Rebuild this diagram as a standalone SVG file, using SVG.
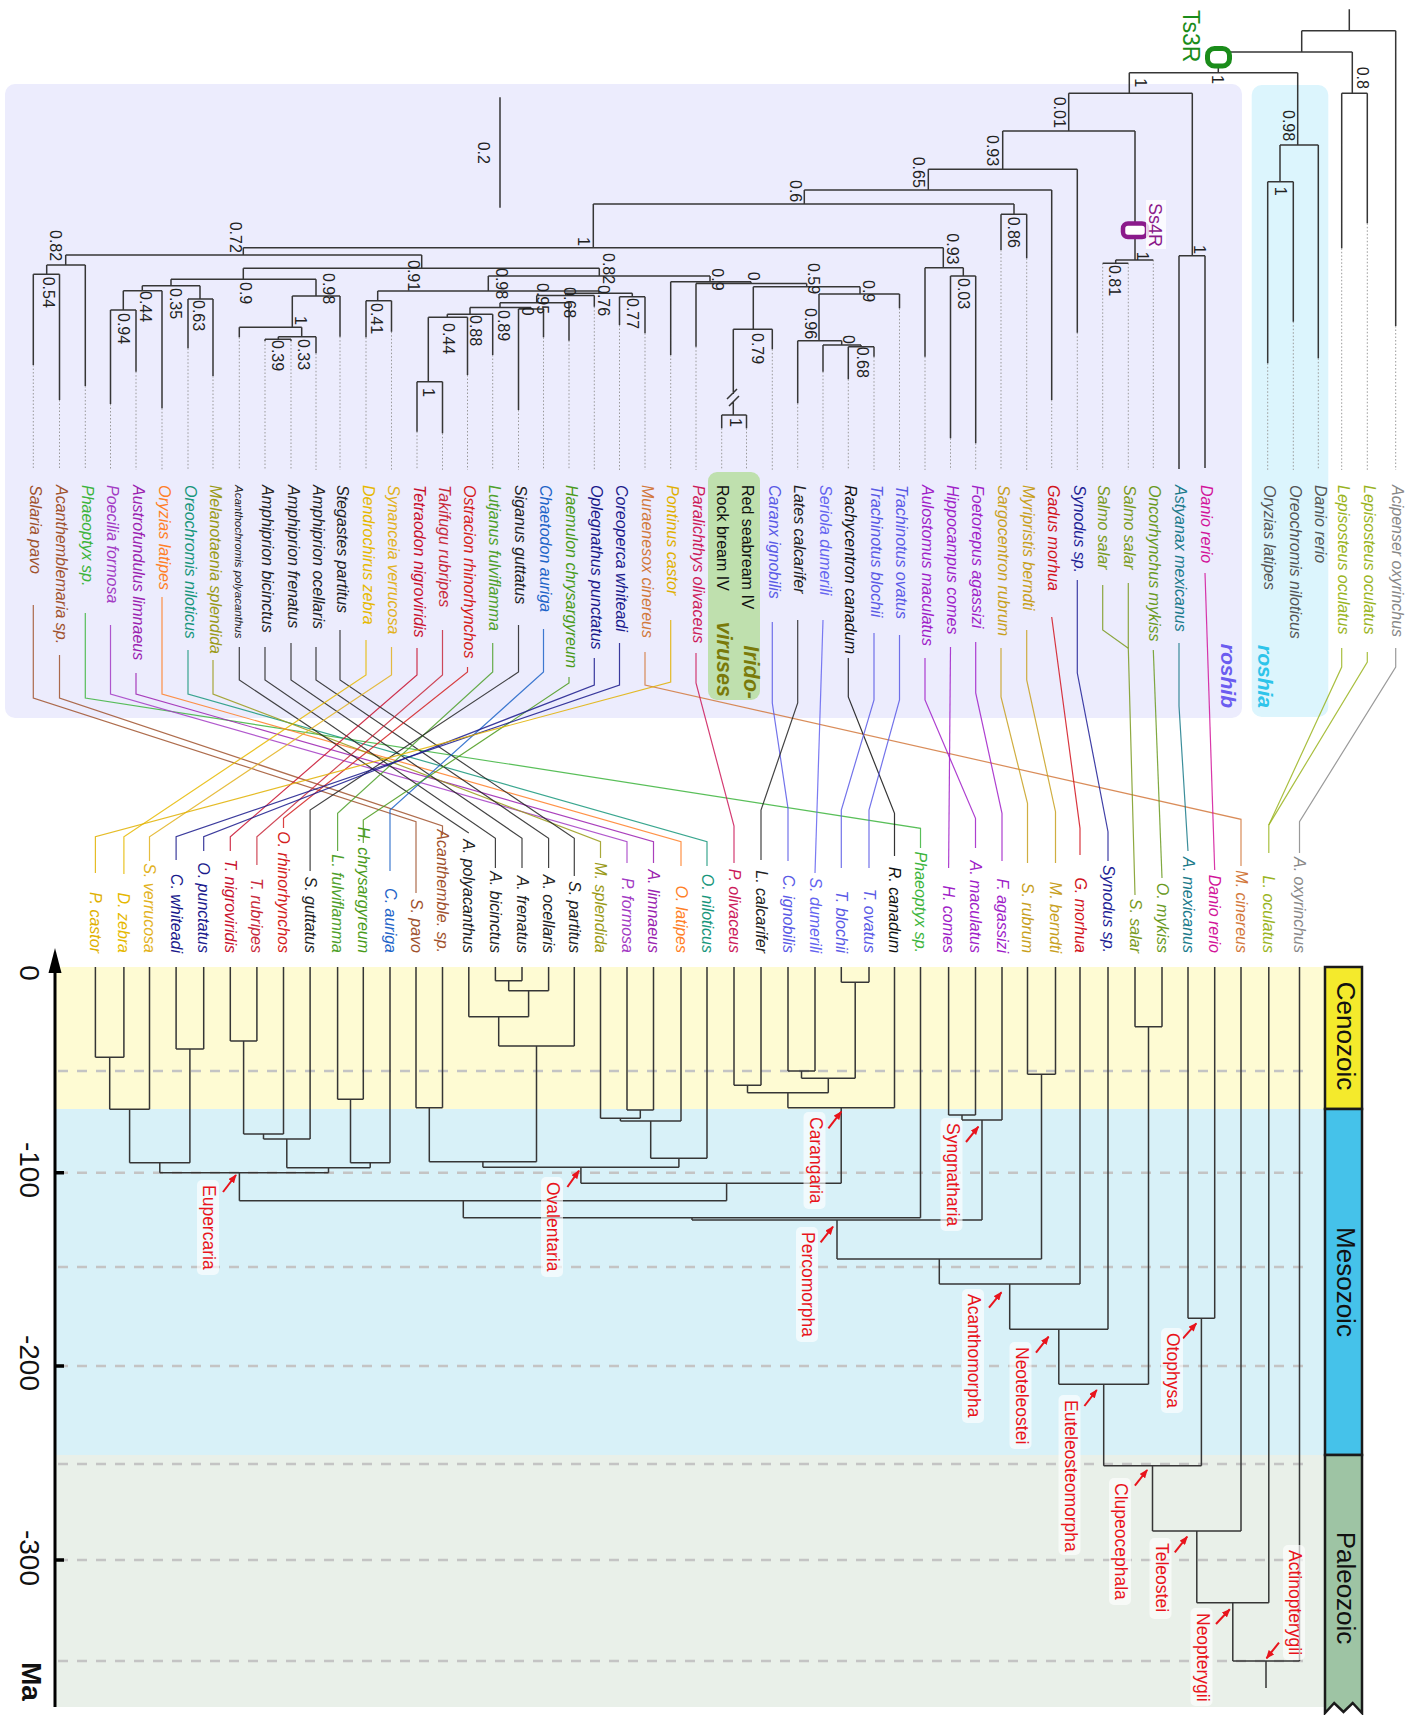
<svg xmlns="http://www.w3.org/2000/svg" width="1417" height="1715" viewBox="0 0 1417 1715">
<defs>
<style>
text{font-family:"Liberation Sans",Arial,Helvetica,sans-serif}
.u{font-size:16px;font-style:italic}
.lw{font-size:16px;font-style:italic;text-anchor:end}
.s{font-size:16px;fill:#222}
.c{font-size:17.5px;fill:#e8141c}
.br{stroke:#363636;stroke-width:1.5;fill:none}
.dt{stroke:#9a9a9a;stroke-width:1;stroke-dasharray:1.5 2;fill:none}
.cn{fill:none;stroke-width:1.2;opacity:0.85}
.dash{stroke:#c4c4c4;stroke-width:2.5;stroke-dasharray:10 9}
.ar{stroke:#e8141c;stroke-width:2;fill:none}
.bx{fill:#fff;opacity:0.65}
.era{font-size:26px;fill:#111;text-anchor:middle}
.ax{font-size:28px;fill:#111;text-anchor:middle}
</style>
<marker id="ah" viewBox="0 0 10 8" refX="9" refY="4" markerWidth="9" markerHeight="7" markerUnits="userSpaceOnUse" orient="auto"><path d="M0,0L10,4L0,8z" fill="#e8141c"/></marker>
</defs>
<rect width="1417" height="1715" fill="#fff"/>
<g id="backgrounds">
<rect x="5" y="84" width="1237" height="634" rx="10" fill="#ececfd"/>
<rect x="1251.7" y="85" width="76.6" height="632" rx="10" fill="#dcf5fd"/>
<rect x="708" y="472" width="52" height="228" rx="9" fill="#bfe0ae"/>
<rect x="55" y="967" width="1270" height="142" fill="#fefbd3"/>
<rect x="55" y="1109" width="1270" height="346" fill="#d8f1f8"/>
<rect x="55" y="1455" width="1270" height="252" fill="#e9f0e9"/>
<g class="dash">
<line x1="58" y1="1071" x2="1312" y2="1071"/><line x1="58" y1="1172.7" x2="1312" y2="1172.7"/><line x1="58" y1="1267" x2="1312" y2="1267"/><line x1="58" y1="1366" x2="1312" y2="1366"/><line x1="58" y1="1464" x2="1312" y2="1464"/><line x1="58" y1="1560" x2="1312" y2="1560"/><line x1="58" y1="1661" x2="1312" y2="1661"/>
</g>
</g>
<g id="connectors">
<path class="dt" d="M33.3 365V470M59.5 400V470M85.3 386V470M110.5 404V470M136 371.7V470M162 408.3V470M188 348.3V470M213 376V470M239.3 337.3V470M265 341V470M291 341V470M316 353.3V470M340 336.7V470M366 337.3V470M391.5 331.7V470M417 431.7V470M442.5 433.3V470M467.5 375V470M492.7 355V470M518.5 410V470M543.5 337.3V470M569 340.7V470M594.3 306.7V470M619.5 325V470M645 333.3V470M670.7 355V470M696 346.7V470M721.7 428.3V470M746.5 428.3V470M772.3 349.3V470M797.7 403.3V470M823 371.7V470M848.3 379.3V470M874 356.7V470M899.5 308.3V470M925 356.7V470M950.5 438.3V470M975.7 443.3V470M1001 250V470M1026.7 258.3V470M1051.7 400V470M1077.3 332.7V470M1102.7 263.3V470M1128.3 263.3V470M1153.3 260V470M1267.7 363.3V470M1293.3 321.7V470M1318.3 358.3V470M1341.7 248.3V470M1367.3 223.3V470M1395.7 326V470"/>
<path class="br" d="M1349.3 9.3V30.7M1301.7 30.7H1395.7M1395.7 30.7V326M1301.7 30.7V52M1218.3 52H1352.3M1352.3 52V93.3M1341.7 93.3H1367.3M1341.7 93.3V248.3M1367.3 93.3V223.3M1218.3 52V72.7M1129.3 72.7H1297.7M1297.7 72.7V145M1280 145H1318.3M1318.3 145V358.3M1280 145V181.7M1267.7 181.7H1293.3M1267.7 181.7V363.3M1293.3 181.7V321.7M1129.3 72.7V93.3M1068.7 93.3H1192.3M1192.3 93.3V255.7M1179 255.7H1205M1179 255.7V469M1205 255.7V468M1068.7 93.3V131M1002.7 131H1135M1135 131V260M1115.7 260H1153.3M1115.7 260V263.3M1102.7 263.3H1128.3M1002.7 131V169.3M928.3 169.3H1077.3M1077.3 169.3V332.7M928.3 169.3V190M804.3 190H1051.7M1051.7 190V400M804.3 190V204M593.3 204H1014M1014 204V214.3M1001 214.3H1026.7M1001 214.3V250M1026.7 214.3V258.3M593.3 204V247.7M243.3 247.7H943.3M943.3 247.7V267.7M925 267.7H963.3M925 267.7V356.7M963.3 267.7V276M950.5 276H975.7M950.5 276V438.3M975.7 276V443.3"/>
<path class="br" d="M243.3 247.7V255M65.7 255H421.7M65.7 255V265M46.7 265H85.3M85.3 265V386M46.7 265V274.3M33.3 274.3H59.5M33.3 274.3V365M59.5 274.3V400M421.7 255V268.3M243.3 268.3H599.3M243.3 268.3V279.3M171 279.3H316M171 279.3V285.7M142.3 285.7H200M142.3 285.7V290.7M123.3 290.7H162M162 290.7V408.3M123.3 290.7V310M110.5 310H136M110.5 310V404M136 310V371.7M200 285.7V299M188 299H213M188 299V348.3M213 299V376M316 279.3V296M292.3 296H340M340 296V336.7M292.3 296V327.3M239.3 327.3H301.7M239.3 327.3V337.3M301.7 327.3V336.7M278.3 336.7H316M316 336.7V353.3M278.3 336.7V339.3M265 339.3H291M265 339.3V341M291 339.3V341"/>
<path class="br" d="M599.3 268.3V276M488.3 276H710M488.3 276V291M377.7 291H599M377.7 291V300.7M366 300.7H391.5M366 300.7V337.3M391.5 300.7V331.7M599 291V293.3M565.7 293.3H632.3M632.3 293.3V296.7M619.5 296.7H645M619.5 296.7V325M645 296.7V333.3M565.7 293.3V295.5M536.7 295.5H594.3M594.3 295.5V306.7M536.7 295.5V302.7M500 302.7H569M569 302.7V340.7M500 302.7V307.5M470 307.5H531M531 307.5V309M518.5 309H543.5M518.5 309V410M543.5 309V337.3M470 307.5V314.3M447.3 314.3H492.7M492.7 314.3V355M447.3 314.3V317.3M428.3 317.3H467.5M467.5 317.3V375M428.3 317.3V381.7M417 381.7H442.5M417 381.7V431.7M442.5 381.7V433.3M710 276V281.7M670.7 281.7H751M670.7 281.7V355M751 281.7V283.5M696 283.5H806.7M696 283.5V346.7M806.7 283.5V286.7M753.3 286.7H860M753.3 286.7V329.3M733.3 329.3H772.3M772.3 329.3V349.3M733.3 329.3V394M733.3 402V415M721.7 415H746.5M721.7 415V428.3M746.5 415V428.3M860 286.7V294M819 294H899.5M899.5 294V308.3M819 294V340.7M797.7 340.7H841.7M797.7 340.7V403.3M841.7 340.7V345M823 345H861M823 345V371.7M861 345V346.7M848.3 346.7H874M848.3 346.7V379.3M874 346.7V356.7M727 399L737 389M729 406L739 396"/>
<path class="br" d="M500 97.3V207.7"/>
<path class="br" d="M95.4 967V1057.3M123.9 967V1057.3M149.5 967V1109.3M176.1 967V1049M203.7 967V1049M230.3 967V1041M256.9 967V1041M283.5 967V1134M310.1 967V1139M337.6 967V1099.3M363.3 967V1099.3M390 967V1162.7M416 967V1107.7M442.5 967V1107.7M468.8 967V1016.7M495.4 967V980.7M522 967V980.7M548.6 967V990.7M574.3 967V1046M600.5 967V1118.3M627 967V1110M653.5 967V1110M681 967V1121M707 967V1158.3M734 967V1085.3M761 967V1085.3M788 967V1071M815 967V1071M841.3 967V982.3M869 967V982.3M894.5 967V1107.7M920.5 967V1217.7M948.6 967V1115M975.5 967V1115M1002 967V1120M1027.5 967V1074.3M1055.5 967V1074.3M1080 967V1284M1108 967V1329.3M1135 967V1026.7M1162 967V1026.7M1188 967V1318.3M1214.7 967V1318.3M1241 967V1531M1268.8 967V1602.7M1299.5 967V1661"/>
<path class="br" d="M95.4 1057.3H123.9M109.7 1057.3V1109.3M109.7 1109.3H149.5M129.6 1109.3V1162.7M176.1 1049H203.7M189.9 1049V1162.7M129.6 1162.7H189.9M159.8 1162.7V1172.7M230.3 1041H256.9M243.6 1041V1134M243.6 1134H283.5M263.5 1134V1139M263.5 1139H310.1M286.8 1139V1167.7M337.6 1099.3H363.3M350.5 1099.3V1162.7M350.5 1162.7H390M370.2 1162.7V1167.7M286.8 1167.7H370.2M328.5 1167.7V1172.7M159.8 1172.7H328.5M239.4 1172.7V1200.7M416 1107.7H442.5M429.3 1107.7V1161.7M495.4 980.7H522M508.7 980.7V990.7M508.7 990.7H548.6M528.6 990.7V1016.7M468.8 1016.7H528.6M498.7 1016.7V1046M498.7 1046H574.3M536.5 1046V1161.7M429.3 1161.7H536.5M482.9 1161.7V1167.3M627 1110H653.5M640.3 1110V1118.3M600.5 1118.3H640.3M620.4 1118.3V1121M620.4 1121H681M650.7 1121V1158.3M650.7 1158.3H707M678.9 1158.3V1167.3M482.9 1167.3H678.9M580.9 1167.3V1183.3M734 1085.3H761M747.5 1085.3V1092.7M788 1071H815M801.5 1071V1078.3M841.3 982.3H869M855.2 982.3V1078.3M801.5 1078.3H855.2M828.3 1078.3V1092.7M747.5 1092.7H828.3M787.9 1092.7V1107.7M787.9 1107.7H894.5M841.2 1107.7V1183.3M580.9 1183.3H841.2M726.6 1183.3V1200.7M239.4 1200.7H726.6M463.3 1200.7V1217.7M463.3 1217.7H920.5M692 1217.7V1220M948.6 1115H975.5M962 1115V1120M962 1120H1002M982 1120V1220M692 1220H982M837 1220V1259M1027.5 1074.3H1055.5M1041.5 1074.3V1259M837 1259H1041.5M939.3 1259V1284M939.3 1284H1080M1009.7 1284V1329.3M1009.7 1329.3H1108M1058.8 1329.3V1384.3M1135 1026.7H1162M1148.5 1026.7V1384.3M1058.8 1384.3H1148.5M1103.7 1384.3V1465.7M1188 1318.3H1214.7M1201.4 1318.3V1465.7M1103.7 1465.7H1201.4M1152.5 1465.7V1531M1152.5 1531H1241M1196.8 1531V1602.7M1196.8 1602.7H1268.8M1232.8 1602.7V1661M1232.8 1661H1299.5M1266 1661V1688"/>
<polyline class="cn" stroke="#a0522d" points="33.3,605 33.3,698 416,821.7 416,893"/>
<polyline class="cn" stroke="#a0522d" points="59.5,655 59.5,698 442.5,826 442.5,835"/>
<polyline class="cn" stroke="#3cb43c" points="85.3,613 85.3,698 920.5,828.3 920.5,848"/>
<polyline class="cn" stroke="#a33bc4" points="110.5,625 110.5,694 627,841.7 627,863"/>
<polyline class="cn" stroke="#9b1fb0" points="136,673 136,694 653.5,841.7 653.5,863"/>
<polyline class="cn" stroke="#ff7f27" points="162,597 162,694 681,841.7 681,866"/>
<polyline class="cn" stroke="#17967b" points="188,650 188,694 707,841.7 707,866"/>
<polyline class="cn" stroke="#9a9a18" points="213,660 213,694 600.5,841.7 600.5,858"/>
<polyline class="cn" stroke="#222" points="239.3,647 239.3,680 468.8,833"/>
<polyline class="cn" stroke="#222" points="265,647 265,680 495.4,838.3 495.4,868"/>
<polyline class="cn" stroke="#222" points="291,643 291,680 522,838.3 522,868"/>
<polyline class="cn" stroke="#222" points="316,647 316,680 548.6,838.3 548.6,868"/>
<polyline class="cn" stroke="#222" points="340,630 340,680 574.3,838.3 574.3,876"/>
<polyline class="cn" stroke="#e6b800" points="366,640 366,675 123.9,836.7 123.9,874"/>
<polyline class="cn" stroke="#e2b21e" points="391.5,647 391.5,675 149.5,836.7 149.5,861"/>
<polyline class="cn" stroke="#c8102e" points="417,648 417,675 230.3,836.7 230.3,851"/>
<polyline class="cn" stroke="#c82a3c" points="442.5,630 442.5,675 256.9,836.7 256.9,865"/>
<polyline class="cn" stroke="#d42020" points="467.5,667 467.5,672 283.5,818.3 283.5,828"/>
<polyline class="cn" stroke="#4ea02a" points="492.7,643 492.7,672 337.6,813.3 337.6,851"/>
<polyline class="cn" stroke="#222" points="518.5,625 518.5,672 310.1,810 310.1,871"/>
<polyline class="cn" stroke="#1e64c8" points="543.5,629 543.5,672 390,810 390,871"/>
<polyline class="cn" stroke="#4a9a1a" points="569,677 569,683 363.3,820 363.3,843"/>
<polyline class="cn" stroke="#1a1a8c" points="594.3,658 594.3,685 203.7,836.7 203.7,851"/>
<polyline class="cn" stroke="#1a1a8c" points="619.5,643 619.5,685 176.1,836.7 176.1,860"/>
<polyline class="cn" stroke="#d2783c" points="645,652 645,685 1241,819.3 1241,866"/>
<polyline class="cn" stroke="#e0b000" points="670.7,620 670.7,682 95.4,836.7 95.4,873"/>
<polyline class="cn" stroke="#cc1a5a" points="696,653 696,683 734,826 734,863"/>
<polyline class="cn" stroke="#5a5ae6" points="772.3,622 772.3,703 788,808.3 788,861"/>
<polyline class="cn" stroke="#222" points="797.7,620 797.7,703 761,810 761,860"/>
<polyline class="cn" stroke="#6464f0" points="823,620 815,873"/>
<polyline class="cn" stroke="#111" points="848.3,658 848.3,697 894.5,813.3 894.5,856"/>
<polyline class="cn" stroke="#5a5ae6" points="874,633 874,700 841.3,810 841.3,868"/>
<polyline class="cn" stroke="#5a5ae6" points="899.5,635 899.5,700 869,810 869,868"/>
<polyline class="cn" stroke="#a01ec8" points="925,658 925,700 975.5,818.3 975.5,848"/>
<polyline class="cn" stroke="#a01ec8" points="950.5,647 948.6,868"/>
<polyline class="cn" stroke="#a01ec8" points="975.7,642 975.7,693 1002,813.3 1002,861"/>
<polyline class="cn" stroke="#c8a01e" points="1001,648 1001,697 1027.5,803.3 1027.5,863"/>
<polyline class="cn" stroke="#c8a01e" points="1026.7,630 1026.7,680 1055.5,811.7 1055.5,863"/>
<polyline class="cn" stroke="#d2141e" points="1051.7,617 1080,828.3 1080,855"/>
<polyline class="cn" stroke="#1e1e96" points="1077.3,580 1077.3,673 1108,831.7 1108,861"/>
<polyline class="cn" stroke="#7a9a1e" points="1102.7,585 1102.7,630 1128.3,648.3"/>
<polyline class="cn" stroke="#7a9a1e" points="1128.3,583 1128.3,648.3 1135,895"/>
<polyline class="cn" stroke="#6a9a1e" points="1153.3,650 1162,878"/>
<polyline class="cn" stroke="#1a7a8a" points="1179,643 1179,706 1188,851"/>
<polyline class="cn" stroke="#d2149a" points="1205,573 1214.7,870"/>
<polyline class="cn" stroke="#9ab41e" points="1341.7,648 1341.7,667 1268.8,825 1268.8,853"/>
<polyline class="cn" stroke="#9ab41e" points="1367.3,652 1367.3,662 1268.8,825"/>
<polyline class="cn" stroke="#888" points="1395.7,648 1395.7,667 1299.5,821.7 1299.5,853"/>
<g id="arrows">
<line class="ar" marker-end="url(#ah)" x1="223" y1="1192" x2="236" y2="1175"/>
<line class="ar" marker-end="url(#ah)" x1="567.4" y1="1187" x2="579" y2="1170.7"/>
<line class="ar" marker-end="url(#ah)" x1="828.4" y1="1128.3" x2="841.3" y2="1111.7"/>
<line class="ar" marker-end="url(#ah)" x1="966" y1="1142" x2="978.4" y2="1126.7"/>
<line class="ar" marker-end="url(#ah)" x1="820.6" y1="1242.3" x2="833" y2="1226.7"/>
<line class="ar" marker-end="url(#ah)" x1="989" y1="1307.7" x2="1001.4" y2="1292.3"/>
<line class="ar" marker-end="url(#ah)" x1="1036" y1="1352.7" x2="1048.6" y2="1336.7"/>
<line class="ar" marker-end="url(#ah)" x1="1183" y1="1338.3" x2="1196.3" y2="1323.3"/>
<line class="ar" marker-end="url(#ah)" x1="1084.4" y1="1406" x2="1096.8" y2="1390"/>
<line class="ar" marker-end="url(#ah)" x1="1134.9" y1="1485.7" x2="1147.2" y2="1470"/>
<line class="ar" marker-end="url(#ah)" x1="1174.8" y1="1552.3" x2="1187.2" y2="1536.7"/>
<line class="ar" marker-end="url(#ah)" x1="1216" y1="1624" x2="1229.8" y2="1609.3"/>
<line class="ar" marker-end="url(#ah)" x1="1279" y1="1642.7" x2="1266.5" y2="1658.3"/>
</g>
</g>
<g id="markers">
<rect x="1207.5" y="48.5" width="22" height="17.5" rx="7" fill="#fff" stroke="#1a8c1a" stroke-width="5"/>
<rect x="1123" y="223.5" width="24" height="13.5" rx="5" fill="#fff" stroke="#8b1a8b" stroke-width="4.5"/>
<rect x="1146" y="200" width="20" height="49" fill="#fff" opacity="0.8"/>
</g>
<g id="clade-boxes">
<rect class="bx" x="197" y="1180" width="22" height="95" rx="5"/>
<rect class="bx" x="541" y="1177" width="22" height="100" rx="5"/>
<rect class="bx" x="803.5" y="1112" width="22" height="97" rx="5"/>
<rect class="bx" x="940.5" y="1118" width="22" height="113" rx="5"/>
<rect class="bx" x="796" y="1227" width="22" height="115" rx="5"/>
<rect class="bx" x="962" y="1289" width="22" height="134" rx="5"/>
<rect class="bx" x="1009.5" y="1342" width="22" height="107" rx="5"/>
<rect class="bx" x="1161" y="1328" width="22" height="85" rx="5"/>
<rect class="bx" x="1058.5" y="1395" width="22" height="160" rx="5"/>
<rect class="bx" x="1109" y="1478" width="22" height="127" rx="5"/>
<rect class="bx" x="1149.5" y="1538" width="22" height="81" rx="5"/>
<rect class="bx" x="1190.5" y="1608" width="22" height="98" rx="5"/>
<rect class="bx" x="1283" y="1545" width="22" height="115" rx="5"/>
</g>
<g id="era-bar" stroke="#1a1a1a" stroke-width="2.5">
<rect x="1325" y="967" width="37" height="142" fill="#f4ea2c"/>
<rect x="1325" y="1109" width="37" height="346" fill="#45c2ea"/>
<path d="M1325 1455H1362V1713L1352.7 1703L1343.5 1712L1334.2 1703L1325 1713Z" fill="#9ec4a4"/>
</g>
<g id="axis">
<line x1="55" y1="962" x2="55" y2="1707" stroke="#000" stroke-width="3"/>
<polygon points="55,948 48.5,973 61.5,973" fill="#000"/>
<path d="M55 1172.7H64M55 1366H64M55 1560H64" stroke="#000" stroke-width="3.5"/>
</g>
<g transform="rotate(90)">
<g id="upper-labels">
<g id="u01"><text class="u" x="485" y="-29.8" fill="#a0522d">Salaria pavo</text></g>
<g id="u02"><text class="u" x="485" y="-56" fill="#a0522d">Acanthemblemaria sp.</text></g>
<g id="u03"><text class="u" x="485" y="-81.8" fill="#3cb43c">Phaeoptyx sp.</text></g>
<g id="u04"><text class="u" x="485" y="-107" fill="#a33bc4">Poecilia formosa</text></g>
<g id="u05"><text class="u" x="485" y="-132.5" fill="#9b1fb0">Austrofundulus limnaeus</text></g>
<g id="u06"><text class="u" x="485" y="-158.5" fill="#ff7f27">Oryzias latipes</text></g>
<g id="u07"><text class="u" x="485" y="-184.5" fill="#17967b">Oreochromis niloticus</text></g>
<g id="u08"><text class="u" x="485" y="-209.5" fill="#9a9a18">Melanotaenia splendida</text></g>
<g id="u09"><text x="485" y="-235" fill="#222" style="font-size:11.5px;font-style:italic">Acanthochromis polyacanthus</text></g>
<g id="u10"><text class="u" x="485" y="-261.5" fill="#222">Amphiprion bicinctus</text></g>
<g id="u11"><text class="u" x="485" y="-287.5" fill="#222">Amphiprion frenatus</text></g>
<g id="u12"><text class="u" x="485" y="-312.5" fill="#222">Amphiprion ocellaris</text></g>
<g id="u13"><text class="u" x="485" y="-336.5" fill="#222">Stegastes partitus</text></g>
<g id="u14"><text class="u" x="485" y="-362.5" fill="#e6b800">Dendrochirus zebra</text></g>
<g id="u15"><text class="u" x="485" y="-388" fill="#e2b21e">Synanceia verrucosa</text></g>
<g id="u16"><text class="u" x="485" y="-413.5" fill="#c8102e">Tetraodon nigroviridis</text></g>
<g id="u17"><text class="u" x="485" y="-439" fill="#c82a3c">Takifugu rubripes</text></g>
<g id="u18"><text class="u" x="485" y="-464" fill="#d42020">Ostracion rhinorhynchos</text></g>
<g id="u19"><text class="u" x="485" y="-489.2" fill="#4ea02a">Lutjanus fulviflamma</text></g>
<g id="u20"><text class="u" x="485" y="-515" fill="#222">Siganus guttatus</text></g>
<g id="u21"><text class="u" x="485" y="-540" fill="#1e64c8">Chaetodon auriga</text></g>
<g id="u22"><text class="u" x="485" y="-565.5" fill="#4a9a1a">Haemulon chrysargyreum</text></g>
<g id="u23"><text class="u" x="485" y="-590.8" fill="#1a1a8c">Oplegnathus punctatus</text></g>
<g id="u24"><text class="u" x="485" y="-616" fill="#1a1a8c">Coreoperca whiteadi</text></g>
<g id="u25"><text class="u" x="485" y="-641.5" fill="#d2783c">Muraenesox cinereus</text></g>
<g id="u26"><text class="u" x="485" y="-667.2" fill="#e0b000">Pontinus castor</text></g>
<g id="u27"><text class="u" x="485" y="-692.5" fill="#cc1a5a">Paralichthys olivaceus</text></g>
<g id="u28"><text x="485" y="-716.7" fill="#111" style="font-size:16px">Rock bream IV</text></g>
<g id="u29"><text x="485" y="-741.5" fill="#111" style="font-size:16px">Red seabream IV</text></g>
<g id="u30"><text x="699" y="-744" fill="#7a7a0a" style="font-size:21.5px;font-weight:bold;font-style:italic;text-anchor:end">Irido-</text><text x="697" y="-716.5" fill="#7a7a0a" style="font-size:21.5px;font-weight:bold;font-style:italic;text-anchor:end">viruses</text></g>
<g id="u31"><text class="u" x="485" y="-768.8" fill="#5a5ae6">Caranx ignobilis</text></g>
<g id="u32"><text class="u" x="485" y="-794.2" fill="#222">Lates calcarifer</text></g>
<g id="u33"><text class="u" x="485" y="-819.5" fill="#6464f0">Seriola dumerili</text></g>
<g id="u34"><text class="u" x="485" y="-844.8" fill="#111">Rachycentron canadum</text></g>
<g id="u35"><text class="u" x="485" y="-870.5" fill="#5a5ae6">Trachinotus blochii</text></g>
<g id="u36"><text class="u" x="485" y="-896" fill="#5a5ae6">Trachinotus ovatus</text></g>
<g id="u37"><text class="u" x="485" y="-921.5" fill="#a01ec8">Aulostomus maculatus</text></g>
<g id="u38"><text class="u" x="485" y="-947" fill="#a01ec8">Hippocampus comes</text></g>
<g id="u39"><text class="u" x="485" y="-972.2" fill="#a01ec8">Foetorepus agassizi</text></g>
<g id="u40"><text class="u" x="485" y="-997.5" fill="#c8a01e">Sargocentron rubrum</text></g>
<g id="u41"><text class="u" x="485" y="-1023.2" fill="#c8a01e">Myripristis berndti</text></g>
<g id="u42"><text class="u" x="485" y="-1048.2" fill="#d2141e">Gadus morhua</text></g>
<g id="u43"><text class="u" x="485" y="-1073.8" fill="#1e1e96">Synodus sp.</text></g>
<g id="u44"><text class="u" x="485" y="-1098" fill="#7a9a1e">Salmo salar</text></g>
<g id="u45"><text class="u" x="485" y="-1123.5" fill="#7a9a1e">Salmo salar</text></g>
<g id="u46"><text class="u" x="485" y="-1148.5" fill="#6a9a1e">Oncorhynchus mykiss</text></g>
<g id="u47"><text class="u" x="485" y="-1174.5" fill="#1a7a8a">Astyanax mexicanus</text></g>
<g id="u48"><text class="u" x="485" y="-1201" fill="#d2149a">Danio rerio</text></g>
<g id="u49"><text x="708" y="-1221.4" fill="#6b5cf0" style="font-size:21px;font-weight:bold;font-style:italic;text-anchor:end">roshib</text></g>
<g id="u50"><text class="u" x="485" y="-1264.2" fill="#555">Oryzias latipes</text></g>
<g id="u51"><text class="u" x="485" y="-1289.8" fill="#555">Oreochromis niloticus</text></g>
<g id="u52"><text class="u" x="485" y="-1314.8" fill="#555">Danio rerio</text></g>
<g id="u53"><text x="708" y="-1258" fill="#2ec4ea" style="font-size:21px;font-weight:bold;font-style:italic;text-anchor:end">roshia</text></g>
<g id="u54"><text class="u" x="485" y="-1338.2" fill="#9ab41e">Lepisosteus oculatus</text></g>
<g id="u55"><text class="u" x="485" y="-1363.8" fill="#9ab41e">Lepisosteus oculatus</text></g>
<g id="u56"><text class="u" x="485" y="-1392.2" fill="#888">Acipenser oxyrinchus</text></g>
</g>
<g id="lower-labels">
<g id="l01"><text class="lw" x="953" y="-89.9" fill="#e0b000">P. castor</text></g>
<g id="l02"><text class="lw" x="953" y="-118.4" fill="#e6b800">D. zebra</text></g>
<g id="l03"><text class="lw" x="953" y="-144" fill="#e2b21e">S. verrucosa</text></g>
<g id="l04"><text class="lw" x="953" y="-170.6" fill="#1a1a8c">C. whiteadi</text></g>
<g id="l05"><text class="lw" x="953" y="-198.2" fill="#1a1a8c">O. punctatus</text></g>
<g id="l06"><text class="lw" x="953" y="-224.8" fill="#c8102e">T. nigroviridis</text></g>
<g id="l07"><text class="lw" x="953" y="-251.4" fill="#c82a3c">T. rubripes</text></g>
<g id="l08"><text class="lw" x="953" y="-278" fill="#d42020">O. rhinorhynchos</text></g>
<g id="l09"><text class="lw" x="953" y="-304.6" fill="#222">S. guttatus</text></g>
<g id="l10"><text class="lw" x="953" y="-332.1" fill="#4ea02a">L. fulviflamma</text></g>
<g id="l11"><text class="lw" x="953" y="-357.8" fill="#4a9a1a">H. chrysargyreum</text></g>
<g id="l12"><text class="lw" x="953" y="-384.5" fill="#1e64c8">C. auriga</text></g>
<g id="l13"><text class="lw" x="953" y="-410.5" fill="#a0522d">S. pavo</text></g>
<g id="l14"><text class="lw" x="953" y="-437" fill="#a0522d">Acanthemble. sp.</text></g>
<g id="l15"><text class="lw" x="953" y="-463.3" fill="#222">A. polyacanthus</text></g>
<g id="l16"><text class="lw" x="953" y="-489.9" fill="#222">A. bicinctus</text></g>
<g id="l17"><text class="lw" x="953" y="-516.5" fill="#222">A. frenatus</text></g>
<g id="l18"><text class="lw" x="953" y="-543.1" fill="#222">A. ocellaris</text></g>
<g id="l19"><text class="lw" x="953" y="-568.8" fill="#222">S. partitus</text></g>
<g id="l20"><text class="lw" x="953" y="-595" fill="#9a9a18">M. splendida</text></g>
<g id="l21"><text class="lw" x="953" y="-621.5" fill="#a33bc4">P. formosa</text></g>
<g id="l22"><text class="lw" x="953" y="-648" fill="#9b1fb0">A. limnaeus</text></g>
<g id="l23"><text class="lw" x="953" y="-675.5" fill="#ff7f27">O. latipes</text></g>
<g id="l24"><text class="lw" x="953" y="-701.5" fill="#17967b">O. niloticus</text></g>
<g id="l25"><text class="lw" x="953" y="-728.5" fill="#cc1a5a">P. olivaceus</text></g>
<g id="l26"><text class="lw" x="953" y="-755.5" fill="#222">L. calcarifer</text></g>
<g id="l27"><text class="lw" x="953" y="-782.5" fill="#5a5ae6">C. ignobilis</text></g>
<g id="l28"><text class="lw" x="953" y="-809.5" fill="#6464f0">S. dumerili</text></g>
<g id="l29"><text class="lw" x="953" y="-835.8" fill="#5a5ae6">T. blochii</text></g>
<g id="l30"><text class="lw" x="953" y="-863.5" fill="#5a5ae6">T. ovatus</text></g>
<g id="l31"><text class="lw" x="953" y="-889" fill="#111">R. canadum</text></g>
<g id="l32"><text class="lw" x="953" y="-915" fill="#3cb43c">Phaeoptyx sp.</text></g>
<g id="l33"><text class="lw" x="953" y="-943.1" fill="#a01ec8">H. comes</text></g>
<g id="l34"><text class="lw" x="953" y="-970" fill="#a01ec8">A. maculatus</text></g>
<g id="l35"><text class="lw" x="953" y="-996.5" fill="#a01ec8">F. agassizi</text></g>
<g id="l36"><text class="lw" x="953" y="-1022" fill="#c8a01e">S. rubrum</text></g>
<g id="l37"><text class="lw" x="953" y="-1050" fill="#c8a01e">M. berndti</text></g>
<g id="l38"><text class="lw" x="953" y="-1074.5" fill="#d2141e">G. morhua</text></g>
<g id="l39"><text class="lw" x="953" y="-1102.5" fill="#1e1e96">Synodus sp.</text></g>
<g id="l40"><text class="lw" x="953" y="-1129.5" fill="#7a9a1e">S. salar</text></g>
<g id="l41"><text class="lw" x="953" y="-1156.5" fill="#6a9a1e">O. mykiss</text></g>
<g id="l42"><text class="lw" x="953" y="-1182.5" fill="#1a7a8a">A. mexicanus</text></g>
<g id="l43"><text class="lw" x="953" y="-1209.2" fill="#d2149a">Danio rerio</text></g>
<g id="l44"><text class="lw" x="953" y="-1235.5" fill="#d2783c">M. cinereus</text></g>
<g id="l45"><text class="lw" x="953" y="-1263.3" fill="#9ab41e">L. oculatus</text></g>
<g id="l46"><text class="lw" x="953" y="-1294" fill="#888">A. oxyrinchus</text></g>
</g>
<g id="support-values" class="s">
<text class="s" x="230" y="-50">0.82</text><text class="s" x="276.7" y="-42.7">0.54</text><text class="s" x="221.7" y="-230">0.72</text><text class="s" x="260" y="-408">0.91</text><text class="s" x="282" y="-240">0.9</text><text class="s" x="273" y="-323">0.98</text><text class="s" x="291" y="-140">0.44</text><text class="s" x="288" y="-170">0.35</text><text class="s" x="300" y="-193">0.63</text><text class="s" x="313" y="-118">0.94</text><text class="s" x="316" y="-295">1</text><text class="s" x="340" y="-272">0.39</text><text class="s" x="339" y="-298">0.33</text><text class="s" x="303" y="-371">0.41</text><text class="s" x="323" y="-443">0.44</text><text class="s" x="388" y="-423">1</text><text class="s" x="315" y="-470">0.88</text>
<text class="s" x="180" y="-790">0.6</text><text class="s" x="156.7" y="-913">0.65</text><text class="s" x="237" y="-578">1</text><text class="s" x="253" y="-603">0.82</text><text class="s" x="268" y="-496">0.98</text><text class="s" x="283" y="-536.7">0.95</text><text class="s" x="287" y="-564">0.68</text><text class="s" x="285" y="-598">0.76</text><text class="s" x="298" y="-626.7">0.77</text><text class="s" x="310" y="-498">0.89</text><text class="s" x="306.7" y="-521.7">0</text><text class="s" x="268.3" y="-711.7">0.9</text><text class="s" x="271.7" y="-748">0</text><text class="s" x="263" y="-808">0.59</text><text class="s" x="280" y="-863">0.9</text><text class="s" x="308" y="-805">0.96</text><text class="s" x="335" y="-843">0</text><text class="s" x="346.7" y="-857">0.68</text><text class="s" x="333" y="-751.7">0.79</text><text class="s" x="418" y="-730">1</text>
<text class="s" x="75" y="-1211.7">1</text><text class="s" x="66.7" y="-1356.7">0.8</text><text class="s" x="110" y="-1283.3">0.98</text><text class="s" x="186.7" y="-1275">1</text><text class="s" x="78.3" y="-1135">1</text><text class="s" x="96.7" y="-1054.3">0.01</text><text class="s" x="135" y="-986.7">0.93</text><text class="s" x="251.7" y="-1136.7">1</text><text class="s" x="265" y="-1109.3">0.81</text><text class="s" x="245" y="-1194">1</text><text class="s" x="216.7" y="-1008.3">0.86</text><text class="s" x="233.3" y="-946.7">0.93</text><text class="s" x="278" y="-958">0.03</text><text class="s" x="141.7" y="-478">0.2</text>
</g>
<g id="wgd-labels">
<text x="10" y="-1183" fill="#1a8c1a" style="font-size:23px">Ts3R</text>
<text x="203" y="-1149" fill="#8b1a8b" style="font-size:18px">Ss4R</text>
</g>
<g id="clade-labels">
<g id="c01"><text class="c" x="1185" y="-203">Eupercaria</text></g>
<g id="c02"><text class="c" x="1182" y="-547">Ovalentaria</text></g>
<g id="c03"><text class="c" x="1117" y="-809.5">Carangaria</text></g>
<g id="c04"><text class="c" x="1123" y="-946.5">Syngnatharia</text></g>
<g id="c05"><text class="c" x="1232" y="-802">Percomorpha</text></g>
<g id="c06"><text class="c" x="1294" y="-968">Acanthomorpha</text></g>
<g id="c07"><text class="c" x="1347" y="-1015.5">Neoteleostei</text></g>
<g id="c08"><text class="c" x="1333" y="-1167">Otophysa</text></g>
<g id="c09"><text class="c" x="1400" y="-1064.5">Euteleosteomorpha</text></g>
<g id="c10"><text class="c" x="1483" y="-1115">Clupeocephala</text></g>
<g id="c11"><text class="c" x="1543" y="-1155.5">Teleostei</text></g>
<g id="c12"><text class="c" x="1613" y="-1196.5">Neopterygii</text></g>
<g id="c13"><text class="c" x="1550" y="-1289">Actinopterygii</text></g>
</g>
<g id="axis-labels">
<text class="ax" x="973" y="-20">0</text><text class="ax" x="1170" y="-20">-100</text><text class="ax" x="1363" y="-20">-200</text><text class="ax" x="1558" y="-20">-300</text>
<text x="1662" y="-22" style="font-size:28px;font-weight:bold" fill="#111">Ma</text>
<text class="era" x="1036" y="-1337">Cenozoic</text><text class="era" x="1282" y="-1337">Mesozoic</text><text class="era" x="1588" y="-1337">Paleozoic</text>
</g>
</g>
</svg>
